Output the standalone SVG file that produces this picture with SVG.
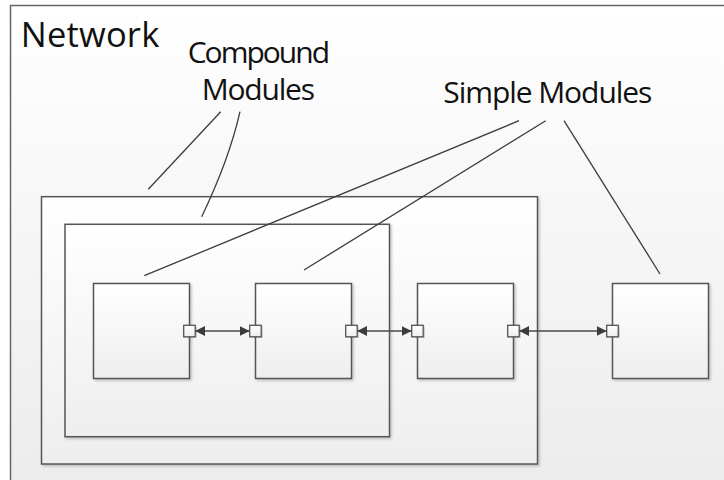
<svg xmlns="http://www.w3.org/2000/svg" width="724" height="480" viewBox="0 0 724 480">
  <defs>
    <linearGradient id="bgFill" x1="0" y1="0" x2="0" y2="1">
      <stop offset="0" stop-color="#ffffff"/>
      <stop offset="1" stop-color="#ececec"/>
    </linearGradient>
    <linearGradient id="boxFill" x1="0" y1="0" x2="0" y2="1">
      <stop offset="0" stop-color="#ffffff"/>
      <stop offset="1" stop-color="#eeeeee"/>
    </linearGradient>
    <filter id="shadow" x="-10%" y="-10%" width="120%" height="120%">
      <feDropShadow dx="1.5" dy="1.5" stdDeviation="0.8" flood-color="#000" flood-opacity="0.22"/>
    </filter>
    <marker id="arrow" viewBox="0 0 10 10" refX="10" refY="5" markerWidth="10" markerHeight="10" markerUnits="userSpaceOnUse" orient="auto-start-reverse">
      <path d="M0,0 L10,5 L0,10 Z" fill="#3c3c3c"/>
    </marker>
  </defs>
  <style>
    .box { fill: url(#boxFill); stroke: #555; stroke-width: 1.5; filter: url(#shadow); }
    .gate { fill: url(#boxFill); stroke: #555; stroke-width: 1.3; filter: url(#shadow); }
    .label { font-family: "Open Sans", "Noto Sans", "Liberation Sans", sans-serif; fill: #111; }
    .pointer { fill: none; stroke: #3c3c3c; stroke-width: 1.3; }
    .link { fill: none; stroke: #4a4a4a; stroke-width: 1.7; marker-start: url(#arrow); marker-end: url(#arrow); }
  </style>

  <!-- network frame -->
  <g id="network">
    <rect x="10.5" y="5.5" width="720" height="480" fill="url(#bgFill)" stroke="#666" stroke-width="1.5"/>
    <text class="label" x="20.7" y="46.7" font-size="34.5" textLength="138.6">Network</text>
  </g>

  <!-- compound modules -->
  <g id="compound-outer">
    <rect class="box" x="41.5" y="196.7" width="496" height="267.3"/>
  </g>
  <g id="compound-inner">
    <rect class="box" x="65" y="224.3" width="324.5" height="212.4"/>
  </g>

  <!-- simple modules with their gates -->
  <g id="module-1">
    <rect class="box" x="93.5" y="283.5" width="96" height="95"/>
    <rect class="gate" x="183.7" y="325.3" width="11.5" height="11.5"/>
  </g>
  <g id="module-2">
    <rect class="box" x="255.5" y="283.5" width="96" height="95"/>
    <rect class="gate" x="249.7" y="325.3" width="11.5" height="11.5"/>
    <rect class="gate" x="345.7" y="325.3" width="11.5" height="11.5"/>
  </g>
  <g id="module-3">
    <rect class="box" x="417.5" y="283.5" width="96" height="95"/>
    <rect class="gate" x="411.7" y="325.3" width="11.5" height="11.5"/>
    <rect class="gate" x="507.7" y="325.3" width="11.5" height="11.5"/>
  </g>
  <g id="module-4">
    <rect class="box" x="612.5" y="283.5" width="96" height="95"/>
    <rect class="gate" x="606.7" y="325.3" width="11.5" height="11.5"/>
  </g>

  <!-- labels -->
  <g id="label-compound">
    <text class="label" x="187.7" y="62.7" font-size="30" textLength="142.3">Compound</text>
    <text class="label" x="201.7" y="100" font-size="30" textLength="113.3">Modules</text>
  </g>
  <g id="label-simple">
    <text class="label" x="443.3" y="103.3" font-size="30" textLength="209">Simple Modules</text>
  </g>

  <!-- connectors -->
  <g id="connectors">
    <line class="link" x1="195.2" y1="331" x2="249.7" y2="331"/>
    <line class="link" x1="357.2" y1="331" x2="411.7" y2="331"/>
    <line class="link" x1="519.2" y1="331" x2="606.7" y2="331"/>

    <line class="pointer" x1="220.7" y1="111.7" x2="148.3" y2="189.3"/>
    <path class="pointer" d="M240,111.7 Q229,160 201.7,216.7"/>
    <line class="pointer" x1="519" y1="120.7" x2="144.3" y2="275.7"/>
    <line class="pointer" x1="545.7" y1="120.7" x2="304" y2="270"/>
    <line class="pointer" x1="564" y1="120.7" x2="660" y2="274"/>
  </g>
</svg>
